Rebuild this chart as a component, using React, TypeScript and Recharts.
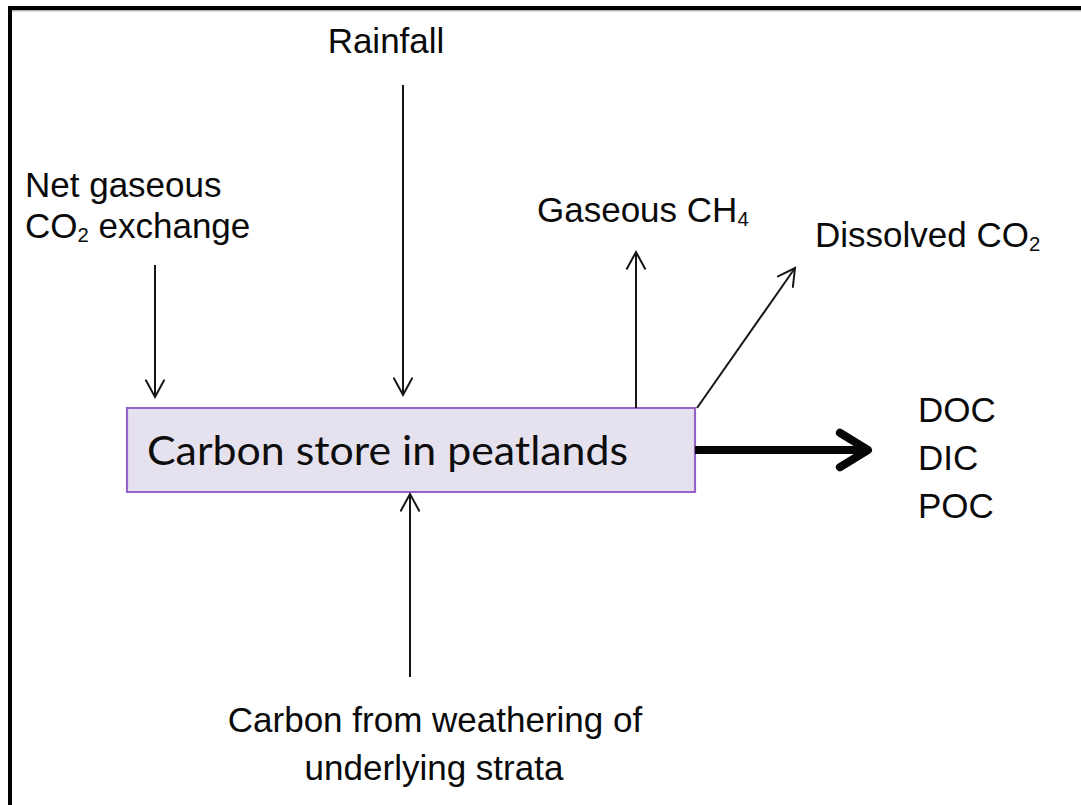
import React from 'react';
import { ComposedChart, XAxis, YAxis, ReferenceLine, ReferenceArea, Scatter } from 'recharts';

// Canvas coordinate system (data units = picture units)
const xDomain = [0, 1081];
const yDomain = [0, 805];

// Frame (top and left edges only)
const frameSegments = [
  { id: 'top', x1: 8, y1: 8, x2: 1081, y2: 8 },
  { id: 'left', x1: 10, y1: 6, x2: 10, y2: 805 },
];
const frameShadow = [{ id: 'topShadow', x1: 12, y1: 10.8, x2: 1081, y2: 10.8 }];

// Central store box
const storeBox = { x1: 127, x2: 695, y1: 408, y2: 492 };

// Thin flux arrows: from -> to (tip)
const thinArrows = [
  { id: 'co2', x1: 155, y1: 265, x2: 155, y2: 397 },
  { id: 'rain', x1: 403, y1: 85, x2: 403, y2: 395 },
  { id: 'ch4', x1: 636, y1: 408, x2: 636, y2: 252 },
  { id: 'dco2', x1: 697, y1: 408, x2: 795, y2: 268 },
  { id: 'strata', x1: 410, y1: 677, x2: 410, y2: 494 },
];

// Thick outflow arrow
const outflowArrows = [{ id: 'fluvial', x1: 695, y1: 450, x2: 868, y2: 450 }];

// Text labels (x, baseline y); "_n" marks a subscript
const startLabels = [
  { x: 25, y: 197, text: 'Net gaseous' },
  { x: 25, y: 238, text: 'CO_2 exchange' },
  { x: 537, y: 222, text: 'Gaseous CH_4' },
  { x: 815, y: 247, text: 'Dissolved CO_2' },
  { x: 918, y: 422, text: 'DOC' },
  { x: 918, y: 470, text: 'DIC' },
  { x: 918, y: 518, text: 'POC' },
];
const middleLabels = [
  { x: 386, y: 53, text: 'Rainfall' },
  { x: 435, y: 732, text: 'Carbon from weathering of' },
  { x: 434, y: 780, text: 'underlying strata' },
];
const boxTitle = [{ x: 147, y: 465, text: 'Carbon store in peatlands' }];

const FONT = '"Liberation Sans", Arial, Helvetica, sans-serif';
const INK = '#0a0a0a';

const richText = (text: string, size: number) => {
  const parts = text.split(/_(\d)/);
  const nodes: any[] = [];
  let shifted = false;
  parts.forEach((s, i) => {
    if (i % 2 === 1) {
      nodes.push(
        <tspan key={i} fontSize={size * 0.58} dy={4}>
          {s}
        </tspan>
      );
      shifted = true;
    } else if (s) {
      nodes.push(
        <tspan key={i} dy={shifted ? -4 : 0}>
          {s}
        </tspan>
      );
      shifted = false;
    }
  });
  return nodes;
};

const makeLabel = (anchor: 'start' | 'middle') => (props: any) => {
  const { cx, cy, payload } = props;
  return (
    <text
      x={cx}
      y={cy}
      textAnchor={anchor}
      fontFamily={FONT}
      fontSize={35}
      fill={INK}
    >
      {richText(payload.text, 35)}
    </text>
  );
};

const titleShape = (props: any) => {
  const { cx, cy, payload } = props;
  return (
    <text
      x={cx}
      y={cy}
      textAnchor="start"
      fontFamily='Lato, "Open Sans", sans-serif'
      fontSize={41}
      fill="#0d0d0d"
      textLength={481}
      lengthAdjust="spacingAndGlyphs"
    >
      {payload.text}
    </text>
  );
};

const makeArrow = (head: number, spread: number, width: number, color: string) => (p: any) => {
  const { x1, y1, x2, y2 } = p;
  if ([x1, y1, x2, y2].some((v) => v == null || isNaN(v))) return <g />;
  const ang = Math.atan2(y2 - y1, x2 - x1);
  const back = ang + Math.PI;
  const ax = x2 + head * Math.cos(back - spread);
  const ay = y2 + head * Math.sin(back - spread);
  const bx = x2 + head * Math.cos(back + spread);
  const by = y2 + head * Math.sin(back + spread);
  const inset = width > 3 ? width * 0.6 : 0;
  const ex = x2 - inset * Math.cos(ang);
  const ey = y2 - inset * Math.sin(ang);
  return (
    <g>
      <line x1={x1} y1={y1} x2={ex} y2={ey} stroke={color} strokeWidth={width} />
      <polyline
        points={`${ax},${ay} ${x2},${y2} ${bx},${by}`}
        fill="none"
        stroke={color}
        strokeWidth={width}
        strokeLinecap="round"
        strokeLinejoin={width > 3 ? 'round' : 'miter'}
      />
    </g>
  );
};

const thinArrowShape = makeArrow(19, 0.5, 2, '#161616');
const thickArrowShape = makeArrow(33, 0.55, 8, '#050505');

export default function App() {
  return (
    <div style={{ position: 'absolute', left: 0, top: 0, width: 1081, height: 805, background: '#ffffff' }}>
      <ComposedChart width={1081} height={805} margin={{ top: 0, right: 0, bottom: 0, left: 0 }}>
        <XAxis type="number" dataKey="x" domain={xDomain} hide allowDataOverflow />
        <YAxis type="number" dataKey="y" domain={yDomain} reversed hide allowDataOverflow />

        {frameShadow.map((s) => (
          <ReferenceLine
            key={s.id}
            segment={[{ x: s.x1, y: s.y1 }, { x: s.x2, y: s.y2 }]}
            stroke="#b5b5b5"
            strokeWidth={1.5}
            ifOverflow="extendDomain"
          />
        ))}
        {frameSegments.map((s) => (
          <ReferenceLine
            key={s.id}
            segment={[{ x: s.x1, y: s.y1 }, { x: s.x2, y: s.y2 }]}
            stroke="#000000"
            strokeWidth={4}
            ifOverflow="extendDomain"
          />
        ))}

        <ReferenceArea
          x1={storeBox.x1}
          x2={storeBox.x2}
          y1={storeBox.y1}
          y2={storeBox.y2}
          fill="#e6e1ee"
          fillOpacity={1}
          stroke="#9563c9"
          strokeWidth={2.2}
        />

        {thinArrows.map((a) => (
          <ReferenceLine
            key={a.id}
            segment={[{ x: a.x1, y: a.y1 }, { x: a.x2, y: a.y2 }]}
            shape={thinArrowShape}
          />
        ))}
        {outflowArrows.map((a) => (
          <ReferenceLine
            key={a.id}
            segment={[{ x: a.x1, y: a.y1 }, { x: a.x2, y: a.y2 }]}
            shape={thickArrowShape}
          />
        ))}

        <Scatter data={startLabels} dataKey="y" shape={makeLabel('start')} isAnimationActive={false} />
        <Scatter data={middleLabels} dataKey="y" shape={makeLabel('middle')} isAnimationActive={false} />
        <Scatter data={boxTitle} dataKey="y" shape={titleShape} isAnimationActive={false} />
      </ComposedChart>
    </div>
  );
}
